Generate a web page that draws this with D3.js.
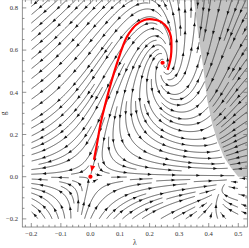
<!DOCTYPE html>
<html>
<head>
<meta charset="utf-8">
<script src="https://cdn.jsdelivr.net/npm/d3@7"></script>
<style>
html, body { margin: 0; padding: 0; background: #fff; }
svg { display: block; }
</style>
</head>
<body>
<svg id="chart" width="249" height="248"></svg>
<script>
// tick labels
const xTicks = [-0.2, -0.1, 0.0, 0.1, 0.2, 0.3, 0.4, 0.5];
const yTicks = [-0.2, 0.0, 0.2, 0.4, 0.6, 0.8];

// fixed points: gaussian and non-gaussian
const fixedPoints = [[0, 0], [0.244, 0.540]];

// red trajectory (from the GFP end to the NGFP end)
const separatrix = [
    [0.004, 0.028], [0.012, 0.080], [0.024, 0.170], [0.034, 0.250], [0.054, 0.364],
    [0.079, 0.490], [0.101, 0.585], [0.118, 0.648], [0.131, 0.680], [0.154, 0.719],
    [0.182, 0.743], [0.210, 0.746], [0.238, 0.735], [0.261, 0.703], [0.272, 0.664],
    [0.274, 0.616], [0.272, 0.569], [0.266, 0.529], [0.261, 0.506]
];

// left edge of the gray region, top to bottom
const grayEdge = [
    [0.350, 0.840], [0.364, 0.680], [0.381, 0.521], [0.395, 0.364], [0.412, 0.250],
    [0.429, 0.171], [0.452, 0.092], [0.474, 0.045], [0.497, 0.005], [0.500, 0.0]
];

// flow model (Einstein-Hilbert type), drawn towards the infrared
const gScale = 1.12;
const ghostConst = 0;

function flow(l, g) {
    const gm = g / gScale;
    const u = 1 / (1 - 2 * l);
    const B1 = (20 * u - 36 * u * u - 28) / (12 * Math.PI);
    const B2 = (2 + 20 * l) * u * u / (24 * Math.PI);
    const eta = gm * B1 / (1 - gm * B2);
    const bg = (2 + eta) * g;
    const bl = -(2 - eta) * l + gm / (8 * Math.PI) * (20 * u - ghostConst - (10 / 3) * eta * u);
    return [-bl, -bg];
}

const svg = d3.select("#chart");

const x = d3.scaleLinear().domain([-0.2, 0.5]).range([31.3, 238.3]);
const y = d3.scaleLinear().domain([-0.2, 0.8]).range([218.9, 7.9]);

const fx0 = x(-0.2305), fx1 = x(0.5305);
const fy0 = y(0.8385), fy1 = y(-0.2385);

svg.append("clipPath").attr("id", "clip")
    .append("rect")
    .attr("x", fx0).attr("y", fy0)
    .attr("width", fx1 - fx0).attr("height", fy1 - fy0);

const plot = svg.append("g").attr("clip-path", "url(#clip)");

// gray region
const grayPoly = grayEdge.map(d => [x(d[0]), y(d[1])]);
grayPoly.push([fx1 + 2, y(0)], [fx1 + 2, fy0 - 2], [x(grayEdge[0][0]), fy0 - 2]);

plot.append("path")
    .attr("d", "M" + grayPoly.map(p => p.join(",")).join("L") + "Z")
    .attr("fill", "#c3c3c3");

// streamlines
const kx = x(1) - x(0), ky = y(0) - y(1);
const dsep = 6.2, dtest = 4.2, step = 0.5;
const selfGap = Math.round(3 * dsep / step);
const bx0 = x(-0.2), bx1 = fx1, by0 = fy0, by1 = y(-0.2);
const fpPix = fixedPoints.map(d => [x(d[0]), y(d[1])]);

function region(px, py) {
    if (d3.polygonContains(grayPoly, [px, py])) return 1;
    return x.invert(px) < 0.5 ? 0 : 2;
}

function vel(px, py) {
    const v = flow(x.invert(px), y.invert(py));
    const vx = v[0] * kx, vy = -v[1] * ky;
    const m = Math.hypot(vx, vy);
    if (!(m > 1e-12) || !isFinite(m)) return null;
    return [vx / m, vy / m];
}

const cells = new Map();
function cellKey(px, py) { return Math.floor(px / dsep) + "," + Math.floor(py / dsep); }
function addPoint(px, py, id, k) {
    const key = cellKey(px, py);
    if (!cells.has(key)) cells.set(key, []);
    cells.get(key).push({x: px, y: py, id, k});
}
function removeId(id) {
    cells.forEach((arr, key) => cells.set(key, arr.filter(p => p.id !== id)));
}
function tooClose(px, py, d, id, k) {
    const ci = Math.floor(px / dsep), cj = Math.floor(py / dsep);
    for (let i = ci - 1; i <= ci + 1; i++) {
        for (let j = cj - 1; j <= cj + 1; j++) {
            const arr = cells.get(i + "," + j);
            if (!arr) continue;
            for (const p of arr) {
                if (p.id === id && Math.abs(p.k - k) < selfGap) continue;
                if ((p.x - px) ** 2 + (p.y - py) ** 2 < d * d) return true;
            }
        }
    }
    return false;
}

function trace(sx, sy, dir, id) {
    const out = [];
    let px = sx, py = sy, k = 0;
    const reg = region(sx, sy);
    for (let n = 0; n < 1600; n++) {
        const v1 = vel(px, py);
        if (!v1) break;
        const v2 = vel(px + dir * v1[0] * step / 2, py + dir * v1[1] * step / 2);
        if (!v2) break;
        if (v1[0] * v2[0] + v1[1] * v2[1] < 0.6) break;
        const nx = px + dir * v2[0] * step, ny = py + dir * v2[1] * step;
        if (nx < bx0 || nx > bx1 || ny < by0 || ny > by1) break;
        if (region(nx, ny) !== reg) break;
        if (fpPix.some(f => Math.hypot(f[0] - nx, f[1] - ny) < 2.5)) break;
        k += dir;
        if (tooClose(nx, ny, dtest, id, k)) break;
        out.push([nx, ny]);
        addPoint(nx, ny, id, k);
        px = nx; py = ny;
    }
    return out;
}

function polyLength(line) {
    let s = 0;
    for (let i = 1; i < line.length; i++) s += Math.hypot(line[i][0] - line[i - 1][0], line[i][1] - line[i - 1][1]);
    return s;
}

const lines = [];
const queue = [];
let nextId = 0;

function makeLine(sx, sy) {
    if (sx < bx0 || sx > bx1 || sy < by0 || sy > by1) return;
    if (tooClose(sx, sy, dsep * 0.92, -1, 0)) return;
    if (!vel(sx, sy)) return;
    const id = nextId++;
    addPoint(sx, sy, id, 0);
    const fw = trace(sx, sy, 1, id);
    const bw = trace(sx, sy, -1, id);
    const line = bw.reverse().concat([[sx, sy]], fw);
    if (polyLength(line) < 6) { removeId(id); return; }
    lines.push(line);
    for (let i = 1; i < line.length - 1; i += 3) {
        const dx = line[i + 1][0] - line[i - 1][0], dy = line[i + 1][1] - line[i - 1][1];
        const m = Math.hypot(dx, dy) || 1;
        queue.push([line[i][0] - dy / m * dsep, line[i][1] + dx / m * dsep]);
        queue.push([line[i][0] + dy / m * dsep, line[i][1] - dx / m * dsep]);
    }
}

function drain() {
    while (queue.length) {
        const s = queue.shift();
        makeLine(s[0], s[1]);
    }
}

makeLine(x(0.3), y(0.1));
drain();
for (let gx = bx0 + 2; gx < bx1; gx += dsep / 2) {
    for (let gy = by0 + 2; gy < by1; gy += dsep / 2) {
        makeLine(gx, gy);
        drain();
    }
}

const lineGen = d3.line();
plot.append("g")
    .selectAll("path")
    .data(lines)
    .join("path")
    .attr("d", d => lineGen(d))
    .attr("fill", "none")
    .attr("stroke", "#222")
    .attr("stroke-width", 0.72);

// arrowheads along the lines
function arrowAt(line, s) {
    let acc = 0;
    for (let i = 1; i < line.length; i++) {
        const a = line[i - 1], b = line[i];
        const seg = Math.hypot(b[0] - a[0], b[1] - a[1]);
        if (acc + seg >= s) {
            const t = (s - acc) / seg;
            const j = Math.min(line.length - 1, i + 2), h = Math.max(0, i - 3);
            const dx = line[j][0] - line[h][0], dy = line[j][1] - line[h][1];
            const m = Math.hypot(dx, dy) || 1;
            return {x: a[0] + t * (b[0] - a[0]), y: a[1] + t * (b[1] - a[1]), ux: dx / m, uy: dy / m};
        }
        acc += seg;
    }
    return null;
}

const heads = [];
lines.forEach(line => {
    const L = polyLength(line);
    const n = Math.max(1, Math.round(L / 24));
    for (let i = 0; i < n; i++) {
        const a = arrowAt(line, (i + 0.5) * L / n);
        if (a) heads.push(a);
    }
});

function headPath(a, len, half) {
    const tipx = a.x + a.ux * len * 0.55, tipy = a.y + a.uy * len * 0.55;
    const bx = a.x - a.ux * len * 0.45, by = a.y - a.uy * len * 0.45;
    return "M" + tipx + "," + tipy +
        "L" + (bx - a.uy * half) + "," + (by + a.ux * half) +
        "L" + (bx + a.uy * half) + "," + (by - a.ux * half) + "Z";
}

plot.append("g")
    .selectAll("path")
    .data(heads)
    .join("path")
    .attr("d", d => headPath(d, 3.7, 1.45))
    .attr("fill", "#111");

// red trajectory
const redPix = separatrix.map(d => [x(d[0]), y(d[1])]);
plot.append("path")
    .attr("d", d3.line().curve(d3.curveCatmullRom)(redPix.slice(1)))
    .attr("fill", "none")
    .attr("stroke", "#f00")
    .attr("stroke-width", 2.2);

{
    const tip = redPix[0], from = redPix[1];
    const dx = tip[0] - from[0], dy = tip[1] - from[1];
    const m = Math.hypot(dx, dy);
    const a = {x: tip[0] - dx / m * 2.5, y: tip[1] - dy / m * 2.5, ux: dx / m, uy: dy / m};
    plot.append("path").attr("d", headPath(a, 6, 2.6)).attr("fill", "#f00");
}

plot.selectAll("circle.fp")
    .data(fixedPoints)
    .join("circle")
    .attr("class", "fp")
    .attr("cx", d => x(d[0]))
    .attr("cy", d => y(d[1]))
    .attr("r", 2.1)
    .attr("fill", "#f00");

// frame and ticks
const frame = svg.append("g").attr("stroke", "#666").attr("stroke-width", 0.7).attr("fill", "none");
frame.append("rect").attr("x", fx0).attr("y", fy0).attr("width", fx1 - fx0).attr("height", fy1 - fy0);

const xMinor = d3.range(-22, 54, 2).map(v => v / 100);
const yMinor = d3.range(-20, 85, 5).map(v => v / 100);

xMinor.forEach(v => {
    const major = xTicks.some(t => Math.abs(t - v) < 1e-6);
    const len = major ? 4 : 2.2;
    frame.append("line").attr("x1", x(v)).attr("x2", x(v)).attr("y1", fy1).attr("y2", fy1 - len);
    frame.append("line").attr("x1", x(v)).attr("x2", x(v)).attr("y1", fy0).attr("y2", fy0 + len);
});
yMinor.forEach(v => {
    const major = yTicks.some(t => Math.abs(t - v) < 1e-6);
    const len = major ? 4 : 2.2;
    frame.append("line").attr("y1", y(v)).attr("y2", y(v)).attr("x1", fx0).attr("x2", fx0 + len);
    frame.append("line").attr("y1", y(v)).attr("y2", y(v)).attr("x1", fx1).attr("x2", fx1 - len);
});

const fmt = v => (v < 0 ? "\u2212" : "") + Math.abs(v).toFixed(1);
const labels = svg.append("g")
    .attr("font-family", "'Liberation Serif', 'DejaVu Serif', serif")
    .attr("font-size", 6.6)
    .attr("fill", "#333");

labels.selectAll("text.xt")
    .data(xTicks)
    .join("text")
    .attr("class", "xt")
    .attr("x", d => x(d))
    .attr("y", 235.5)
    .attr("text-anchor", "middle")
    .text(fmt);

labels.selectAll("text.yt")
    .data(yTicks)
    .join("text")
    .attr("class", "yt")
    .attr("x", 18)
    .attr("y", d => y(d) + 2.3)
    .attr("text-anchor", "end")
    .text(fmt);

labels.append("text")
    .attr("x", (fx0 + fx1) / 2)
    .attr("y", 244.5)
    .attr("text-anchor", "middle")
    .attr("font-size", 7.5)
    .text("\u03bb");

labels.append("text")
    .attr("transform", `translate(6,${(fy0 + fy1) / 2}) rotate(-90)`)
    .attr("text-anchor", "middle")
    .attr("font-size", 7.5)
    .text("g");
</script>
</body>
</html>
